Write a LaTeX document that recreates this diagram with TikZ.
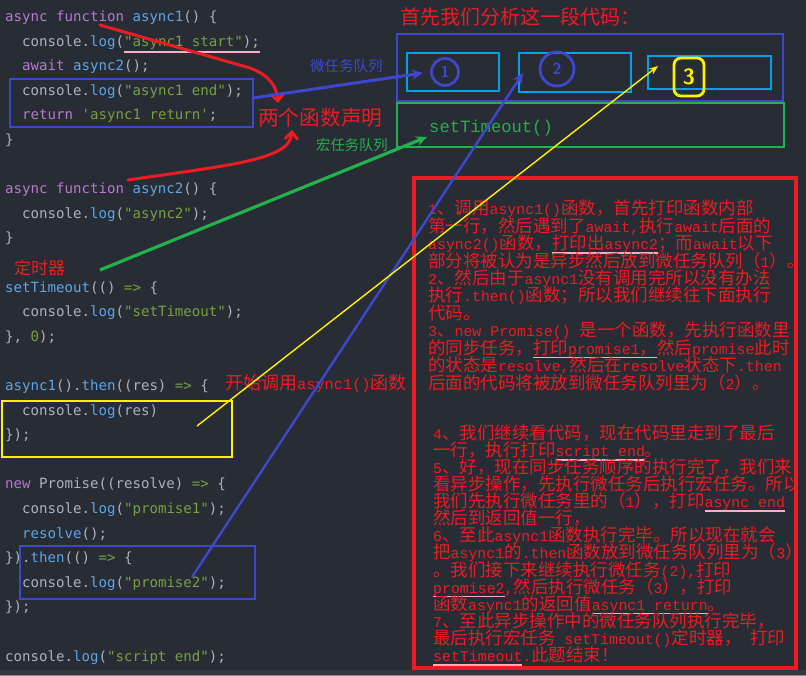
\documentclass[tikz,border=0pt]{standalone}
\usepackage{fontspec}
\usetikzlibrary{arrows.meta}
\newfontfamily\codefont{DejaVu Sans Mono}
\newfontfamily\cjk{Noto Sans CJK SC}
\newfontfamily\lmono{Liberation Mono}[Scale=0.85]
\definecolor{bgc}{HTML}{282C34}
\definecolor{stripc}{HTML}{33363D}
\definecolor{stripl}{HTML}{8A8D93}
\definecolor{kwc}{HTML}{B77ACF}
\definecolor{fnc}{HTML}{5DA5E8}
\definecolor{stc}{HTML}{78A040}
\definecolor{plc}{HTML}{ABB2BF}
\definecolor{pred}{HTML}{ED1C24}
\definecolor{pblue}{HTML}{3F48CC}
\definecolor{pcyan}{HTML}{00A2E8}
\definecolor{pgreen}{HTML}{22B14C}
\definecolor{pyellow}{HTML}{FFF200}
\definecolor{ppink}{HTML}{FFAEC9}
\newcommand\ckw[1]{\textcolor{kwc}{#1}}
\newcommand\cfn[1]{\textcolor{fnc}{#1}}
\newcommand\cst[1]{\textcolor{stc}{#1}}
\newcommand\cpl[1]{\textcolor{plc}{#1}}
\newcommand\squote{\char39\relax}
\newcommand\lat[1]{{\lmono #1}}
\newcommand\pul[1]{\setbox0=\hbox{#1}\rlap{\textcolor{ppink}{\rule[-4.2pt]{\wd0}{1.6pt}}}\box0}
\newcommand\codeul[1]{\setbox0=\hbox{#1}\rlap{\textcolor{ppink}{\rule[-6.8pt]{\wd0}{1.8pt}}}\box0}
\newcommand\rl[4]{\node[rtxt] (#1) at (#2,#3) {#4};}
\newcommand\cl[4]{\node[ctxt] (#1) at (#2,#3) {#4};}
\begin{document}
\begin{tikzpicture}[x=1pt,y=-1pt,
  ctxt/.style={anchor=base west,inner sep=0pt,text=plc,font=\codefont\fontsize{14.1}{16}\selectfont},
  rtxt/.style={anchor=base west,inner sep=0pt,text=pred,font=\cjk\fontsize{17.5}{17.5}\selectfont},
  lbl/.style={anchor=west,inner sep=0pt,font=\cjk},
  qbox/.style={draw,line width=2.2pt,inner sep=0pt,fill=none},
  arr/.style={-{Stealth[length=11pt,width=10pt]}},
  barb/.style={-{Straight Barb[length=7pt,width=13pt]},line width=3pt,pred,line cap=round}]
\useasboundingbox (0,0) rectangle (806,676);
\fill[bgc] (0,0) rectangle (806,676);
\fill[stripc] (0,670) rectangle (806,676);
\draw[stripl,line width=1pt] (0,675.5) -- (806,675.5);

% ---------- code ----------
\cl{c0}{5}{21.5}{\ckw{async} \ckw{function} \cfn{async1}() \{}
\cl{c1}{22}{46.1}{console.\cfn{log}(\codeul{\cst{"async1 start"});}}
\cl{c2}{22}{70.7}{\ckw{await} \cfn{async2}();}
\cl{c3}{22}{95.3}{console.\cfn{log}(\cst{"async1 end"});}
\cl{c4}{22}{119.9}{\ckw{return} \cst{\squote async1 return\squote};}
\cl{c5}{5}{144.5}{\}}
\cl{c7}{5}{193.7}{\ckw{async} \ckw{function} \cfn{async2}() \{}
\cl{c8}{22}{218.3}{console.\cfn{log}(\cst{"async2"});}
\cl{c9}{5}{242.9}{\}}
\cl{c11}{5}{292.1}{\cfn{setTimeout}(() \cst{=>} \{}
\cl{c12}{22}{316.7}{console.\cfn{log}(\cst{"setTimeout"});}
\cl{c13}{5}{341.3}{\}, \cst{0});}
\cl{c15}{5}{390.5}{\cfn{async1}().\cfn{then}((res) \cst{=>} \{}
\cl{c16}{22}{415.1}{console.\cfn{log}(res)}
\cl{c17}{5}{439.7}{\});}
\cl{c19}{5}{488.9}{\ckw{new} Promise((resolve) \cst{=>} \{}
\cl{c20}{22}{513.5}{console.\cfn{log}(\cst{"promise1"});}
\cl{c21}{22}{538.1}{\cfn{resolve}();}
\cl{c22}{5}{562.7}{\}).\cfn{then}(() \cst{=>} \{}
\cl{c23}{22}{587.3}{console.\cfn{log}(\cst{"promise2"});}
\cl{c24}{5}{611.9}{\});}
\cl{c26}{5}{661.1}{console.\cfn{log}(\cst{"script end"});}

% ---------- boxes ----------
\node[qbox,draw=pblue,minimum width=243pt,minimum height=48pt] (asyncbox) at (131.5,103) {};
\node[qbox,draw=pyellow,line width=2.8pt,minimum width=230pt,minimum height=56pt] (ybox) at (117,429) {};
\node[qbox,draw=pblue,minimum width=235pt,minimum height=53pt] (thenbox) at (137.5,572.5) {};
\node[qbox,draw=pblue,minimum width=386pt,minimum height=67pt] (micro) at (590,67.5) {};
\node[qbox,draw=pgreen,line width=2.6pt,minimum width=387pt,minimum height=44pt] (macro) at (590.5,125) {};
\node[qbox,draw=pcyan,minimum width=92pt,minimum height=38pt] (q1) at (453,72) {};
\node[qbox,draw=pcyan,minimum width=112pt,minimum height=39pt] (q2) at (575,72.5) {};
\node[qbox,draw=pcyan,minimum width=123pt,minimum height=33pt] (q3) at (709.5,72.5) {};

\node[circle,draw=pblue,line width=2.8pt,minimum size=27pt,inner sep=0pt,text=pblue,font=\sffamily\bfseries\fontsize{16}{16}\selectfont] (n1) at (445,72) {1};
\node[circle,draw=pblue,line width=2.8pt,minimum size=34pt,inner sep=0pt,text=pblue,font=\sffamily\bfseries\fontsize{16}{16}\selectfont] (n2) at (557,69) {2};
\node[rectangle,rounded corners=7pt,draw=pyellow,line width=2.8pt,minimum width=30pt,minimum height=38pt,inner sep=0pt,text=pyellow,font=\sffamily\bfseries\fontsize{22}{22}\selectfont] (n3) at (689,77) {3};

\node[anchor=west,inner sep=0pt,text=pgreen,font=\lmono\fontsize{20.2}{20.2}\selectfont] (st) at (429,128) {setTimeout()};

% ---------- labels ----------
\node[lbl,text=pred,font=\cjk\fontsize{20}{20}\selectfont] (title) at (400,17) {首先我们分析这一段代码：};
\node[lbl,text=pblue,font=\cjk\fontsize{14.5}{14.5}\selectfont] (microlbl) at (310,66) {微任务队列};
\node[lbl,text=pgreen,font=\cjk\fontsize{14.3}{14.3}\selectfont] (macrolbl) at (316,145) {宏任务队列};
\node[lbl,text=pred,font=\cjk\fontsize{20.7}{20.7}\selectfont] (decl) at (258,118) {两个函数声明};
\node[lbl,text=pred,font=\cjk\fontsize{17}{17}\selectfont] (timer) at (14,268) {定时器};
\node[lbl,text=pred,font=\cjk\fontsize{18}{18}\selectfont] (call) at (225,384) {开始调用\lat{async1()}函数};

% ---------- explanation ----------
\begin{scope}
\clip (0,0) rectangle (796,676);
\rl{t1}{428}{214.8}{\lat{1}、调用\lat{async1()}函数，首先打印函数内部}
\rl{t2}{428}{232.2}{第一行，然后遇到了\lat{await,}执行\lat{await}后面的}
\rl{t3}{428}{249.7}{\lat{async2()}函数，\pul{打印出\lat{async2}}；而\lat{await}以下}
\rl{t4}{428}{267.1}{部分将被认为是异步然后放到微任务队列（\lat{1}）。}
\rl{t5}{428}{284.6}{\lat{2}、然后由于\lat{async1}没有调用完所以没有办法}
\rl{t6}{428}{302}{执行\lat{.then()}函数；所以我们继续往下面执行}
\rl{t7}{428}{319.4}{代码。}
\rl{t8}{428}{336.9}{\lat{3}、\lat{new Promise() }是一个函数，先执行函数里}
\rl{t9}{428}{354.3}{的同步任务，\pul{打印\lat{promise1}，}然后\lat{promise}此时}
\rl{t10}{428}{371.8}{的状态是\lat{resolve,}然后在\lat{resolve}状态下\lat{.then}}
\rl{t11}{428}{389.2}{后面的代码将被放到微任务队列里为（\lat{2}）。}
\rl{t12}{433}{439.2}{\lat{4}、我们继续看代码，现在代码里走到了最后}
\rl{t13}{433}{456.3}{一行，执行打印\pul{\lat{script end}}。}
\rl{t14}{433}{473.4}{\lat{5}、好，现在同步任务顺序的执行完了，我们来}
\rl{t15}{433}{490.5}{看异步操作，先执行微任务后执行宏任务。所以}
\rl{t16}{433}{507.6}{我们先执行微任务里的（\lat{1}），打印\pul{\lat{async end}}}
\rl{t17}{433}{524.7}{然后到返回值一行，}
\rl{t18}{433}{541.8}{\lat{6}、至此\lat{async1}函数执行完毕。所以现在就会}
\rl{t19}{433}{558.9}{把\lat{async1}的\lat{.then}函数放到微任务队列里为（\lat{3}）}
\rl{t20}{433}{576}{。我们接下来继续执行微任务\lat{(2),}打印}
\rl{t21}{433}{593.1}{\pul{\lat{promise2}}\lat{,}然后执行微任务（\lat{3}），打印}
\rl{t22}{433}{610.2}{函数\lat{async1}的返回值\pul{\lat{async1 return}}。}
\rl{t23}{433}{627.3}{\lat{7}、至此异步操作中的微任务队列执行完毕，}
\rl{t24}{433}{644.4}{最后执行宏任务\hspace{0.5em}\lat{setTimeout()}定时器，\hspace{0.5em}打印}
\rl{t25}{433}{661.5}{\pul{\lat{setTimeout}}\lat{.}此题结束！}
\end{scope}
\node[qbox,draw=pred,line width=3.5pt,minimum width=382pt,minimum height=490pt] (redbox) at (605,423) {};

% ---------- connectors ----------
\coordinate (r1s) at (100,25);
\coordinate (r1e) at (278,103);
\coordinate (r2s) at (128,180);
\coordinate (r2e) at (292,130);
\coordinate (b1s) at (253,98);
\coordinate (b1e) at (423,73);
\coordinate (gs) at (100,270);
\coordinate (ge) at (427,137);
\coordinate (b2s) at (192,577);
\coordinate (b2e) at (523,73);
\coordinate (ys) at (197,426);
\coordinate (ye) at (658,66);

\draw[barb] (r1s) -- (250,68) .. controls (270,75) and (277,88) .. (r1e);
\draw[barb] (r2s) .. controls (230,165) and (290,160) .. (r2e);
\draw[arr,pblue,line width=3pt] (b1s) -- (b1e);
\draw[arr,pgreen,line width=3.2pt] (gs) -- (ge);
\draw[arr,pblue,line width=2.4pt] (b2s) -- (b2e);
\draw[-{Stealth[length=9pt,width=7pt]},pyellow,line width=1.4pt] (ys) -- (ye);
\end{tikzpicture}
\end{document}
